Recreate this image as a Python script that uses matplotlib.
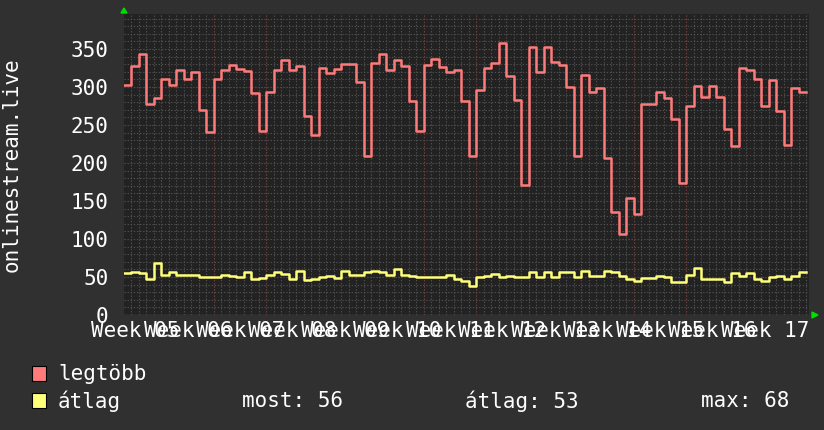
import numpy as np
import matplotlib
matplotlib.use("Agg")
import matplotlib.pyplot as plt
from matplotlib.patches import Polygon, Rectangle

# napi értékek (91 nap, Week 05 .. Week 17)
legtobb = [303, 327, 343, 278, 285, 311, 303, 322, 311, 320, 270, 241, 310, 322, 329,
           324, 321, 292, 242, 294, 322, 335, 322, 327, 262, 237, 325, 318, 324, 330,
           330, 306, 209, 332, 343, 322, 335, 327, 282, 242, 329, 337, 326, 320, 322,
           282, 209, 296, 325, 331, 358, 314, 283, 171, 353, 320, 353, 333, 329, 300,
           209, 316, 293, 299, 206, 135, 107, 154, 133, 278, 278, 293, 286, 258, 174,
           275, 301, 287, 301, 287, 245, 222, 325, 322, 311, 275, 309, 268, 224, 299,
           293]
atlag = [55, 57, 55, 47, 68, 53, 56, 53, 53, 53, 50, 50, 50, 52, 51,
         50, 56, 47, 49, 53, 56, 54, 48, 58, 46, 48, 50, 51, 49, 58,
         52, 53, 56, 58, 57, 52, 61, 52, 51, 50, 50, 50, 50, 52, 48,
         45, 38, 50, 51, 54, 50, 51, 50, 50, 56, 50, 57, 50, 56, 57,
         50, 58, 51, 51, 58, 57, 51, 47, 45, 49, 49, 51, 50, 44, 43,
         53, 62, 48, 47, 47, 43, 55, 51, 55, 48, 45, 50, 51, 48, 51,
         56]
week_labels = ["Week %02d" % w for w in range(5, 18)]
stat_most, stat_atlag, stat_max = 56, 53, 68

BACK = "#303030"
CANVAS = "#222222"
FONT = "DejaVu Sans Mono"
W, H = 824, 430

fig = plt.figure(figsize=(W / 100, H / 100), dpi=100, facecolor=BACK)
ax = fig.add_axes([124 / W, 1 - 315 / H, 685 / W, (315 - 14) / H], facecolor=CANVAS)

n = len(legtobb)
x = np.arange(n + 1)
ax.step(x, legtobb + legtobb[-1:], where="post", color="#ff7a7a", lw=1.8, zorder=3)
ax.step(x, atlag + atlag[-1:], where="post", color="#ffff7a", lw=1.8, zorder=3)

ax.set_xlim(0, 91.4)
ax.set_ylim(0, 396)

# rács
for d in range(1, 92):
    ax.axvline(d, color="#505050", lw=0.8, ls=(0, (1.2, 1.6)), zorder=1)
for v in range(10, 396, 10):
    ax.axhline(v, color="#505050", lw=0.8, ls=(0, (1.2, 1.6)), zorder=1)
for d in range(5, 92, 7):
    ax.axvline(d, color="#6e3838", lw=0.8, ls=(0, (1.2, 1.6)), zorder=2)
for v in range(50, 396, 50):
    ax.axhline(v, color="#6e3838", lw=0.8, ls=(0, (1.2, 1.6)), zorder=2)

for s in ax.spines.values():
    s.set_visible(False)
ax.axhline(0, color="#555555", lw=1, zorder=2)

ax.set_yticks(range(0, 351, 50))
ax.set_yticklabels([str(v) for v in range(0, 351, 50)], color="white",
                   fontsize=15, family=FONT)
ax.tick_params(axis="y", length=0, pad=11)
ax.set_xticks(np.arange(1.5, 91, 7))
ax.set_xticklabels(week_labels, color="white", fontsize=15, family=FONT)
ax.tick_params(axis="x", length=0, pad=4)

fig.text(12 / W, 1 - 165 / H, "onlinestream.live", rotation=90, color="white",
         fontsize=15, family=FONT, ha="center", va="center")

# zöld nyilak
fig.add_artist(Polygon([[121 / W, 1 - 13 / H], [127 / W, 1 - 13 / H], [124 / W, 1 - 8 / H]],
                       closed=True, color="#00dd00", transform=fig.transFigure))
fig.add_artist(Polygon([[812 / W, 1 - 312 / H], [812 / W, 1 - 318 / H], [818 / W, 1 - 315 / H]],
                       closed=True, color="#00dd00", transform=fig.transFigure))

# jelmagyarázat
for yc, col, lab in [(374, "#ff7a7a", "legtöbb"), (401, "#ffff7a", "átlag")]:
    fig.add_artist(Rectangle((32 / W, 1 - (yc + 7) / H), 14 / W, 15 / H,
                             facecolor=col, edgecolor="black", lw=0.8,
                             transform=fig.transFigure))
    fig.text(58 / W, 1 - yc / H, lab, color="white", fontsize=15, family=FONT,
             va="center", ha="left")
fig.text(242 / W, 1 - 401 / H, "most: %d" % stat_most, color="white", fontsize=15,
         family=FONT, va="center", ha="left")
fig.text(465 / W, 1 - 401 / H, "átlag: %d" % stat_atlag, color="white", fontsize=15,
         family=FONT, va="center", ha="left")
fig.text(701 / W, 1 - 401 / H, "max: %d" % stat_max, color="white", fontsize=15,
         family=FONT, va="center", ha="left")

fig.savefig("out.png", dpi=100, facecolor=BACK)
